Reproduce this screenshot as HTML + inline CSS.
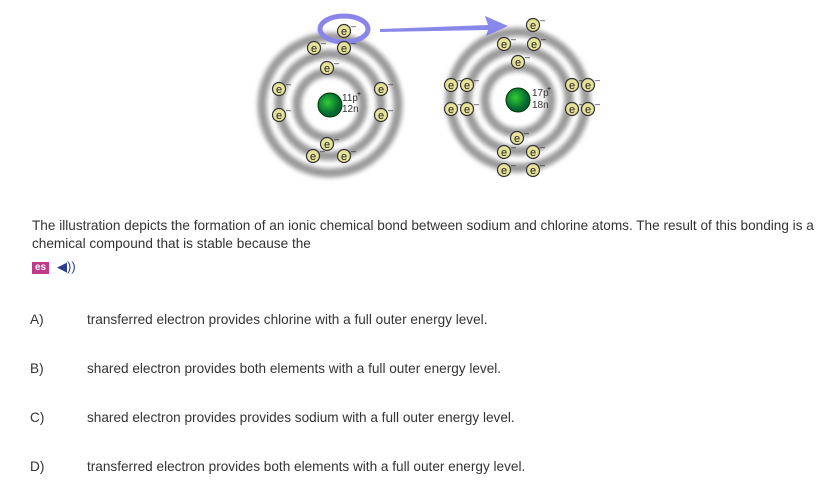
<!DOCTYPE html>
<html><head><style>
body{margin:0;width:817px;height:481px;background:#fff;font-family:"Liberation Sans",sans-serif;color:#333;position:relative;overflow:hidden}
.t{position:absolute;font-size:13.6px;line-height:18px;white-space:nowrap}
</style></head><body>
<svg width="817" height="200" style="position:absolute;left:0;top:0">
<defs>
<filter id="b" x="-20%" y="-20%" width="140%" height="140%"><feGaussianBlur stdDeviation="2.5"/></filter>
<radialGradient id="g" cx="40%" cy="40%"><stop offset="0" stop-color="#3c3"/><stop offset="1" stop-color="#063"/></radialGradient>
<g id="e"><circle r="6.5" fill="#e6e29a" stroke="#333" stroke-width="1.2"/><text y="3.8" text-anchor="middle" font-size="11" fill="#222" font-family="Liberation Sans">e</text><text x="7" y="-2" font-size="9" fill="#222">–</text></g>
</defs>
<g filter="url(#b)" fill="none" stroke="#999" stroke-width="9">
<circle cx="330" cy="105" r="33"/><circle cx="330" cy="105" r="51"/><circle cx="330" cy="105" r="68"/>
<circle cx="518" cy="100" r="33"/><circle cx="518" cy="100" r="51"/><circle cx="518" cy="100" r="68"/>
</g>
<circle cx="330" cy="105" r="12" fill="url(#g)" stroke="#030" stroke-width="1"/>
<circle cx="518" cy="100" r="12" fill="url(#g)" stroke="#030" stroke-width="1"/>
<text x="342" y="101" font-size="10" fill="#333">11p</text><text x="357" y="96" font-size="7">+</text>
<text x="342" y="112" font-size="10" fill="#333">12n</text>
<text x="532" y="96" font-size="10" fill="#333">17p</text><text x="547" y="91" font-size="7">+</text>
<text x="532" y="108" font-size="10" fill="#333">18n</text>
<path d="M380 29 L488 25 L485 16 L508 26 L486 36 L488 30 L380 32Z" fill="#7b7be8" opacity="0.9"/>
<ellipse cx="344" cy="29" rx="24" ry="13" fill="none" stroke="#8a85e8" stroke-width="5"/>
<use href="#e" x="344" y="31"/><use href="#e" x="314" y="48"/><use href="#e" x="344" y="48"/><use href="#e" x="327" y="68"/>
<use href="#e" x="279" y="89"/><use href="#e" x="279" y="115"/><use href="#e" x="381" y="89"/><use href="#e" x="381" y="115"/>
<use href="#e" x="327" y="144"/><use href="#e" x="313" y="156"/><use href="#e" x="344" y="156"/>
<use href="#e" x="533" y="25"/><use href="#e" x="504" y="44"/><use href="#e" x="534" y="44"/><use href="#e" x="518" y="62"/>
<use href="#e" x="451" y="85"/><use href="#e" x="467" y="85"/><use href="#e" x="451" y="109"/><use href="#e" x="467" y="109"/>
<use href="#e" x="572" y="85"/><use href="#e" x="588" y="85"/><use href="#e" x="572" y="109"/><use href="#e" x="588" y="109"/>
<use href="#e" x="517" y="138"/><use href="#e" x="504" y="152"/><use href="#e" x="533" y="152"/><use href="#e" x="504" y="170"/><use href="#e" x="533" y="170"/>
</svg>
<div class="t" style="left:32px;top:217px">The illustration depicts the formation of an ionic chemical bond between sodium and chlorine atoms. The result of this bonding is a<br>chemical compound that is stable because the</div>
<div style="position:absolute;left:32px;top:262px;width:17px;height:12px;background:#c03a8a;color:#fff;font-size:10px;font-weight:bold;line-height:12px;text-align:center">es</div>
<div style="position:absolute;left:57px;top:259px;color:#2a3d8f;font-size:13px">◀))</div>
<div class="t" style="left:30px;top:311px">A)</div><div class="t" style="left:87px;top:311px">transferred electron provides chlorine with a full outer energy level.</div>
<div class="t" style="left:30px;top:360px">B)</div><div class="t" style="left:87px;top:360px">shared electron provides both elements with a full outer energy level.</div>
<div class="t" style="left:30px;top:409px">C)</div><div class="t" style="left:87px;top:409px">shared electron provides provides sodium with a full outer energy level.</div>
<div class="t" style="left:30px;top:458px">D)</div><div class="t" style="left:87px;top:458px">transferred electron provides both elements with a full outer energy level.</div>
</body></html>
